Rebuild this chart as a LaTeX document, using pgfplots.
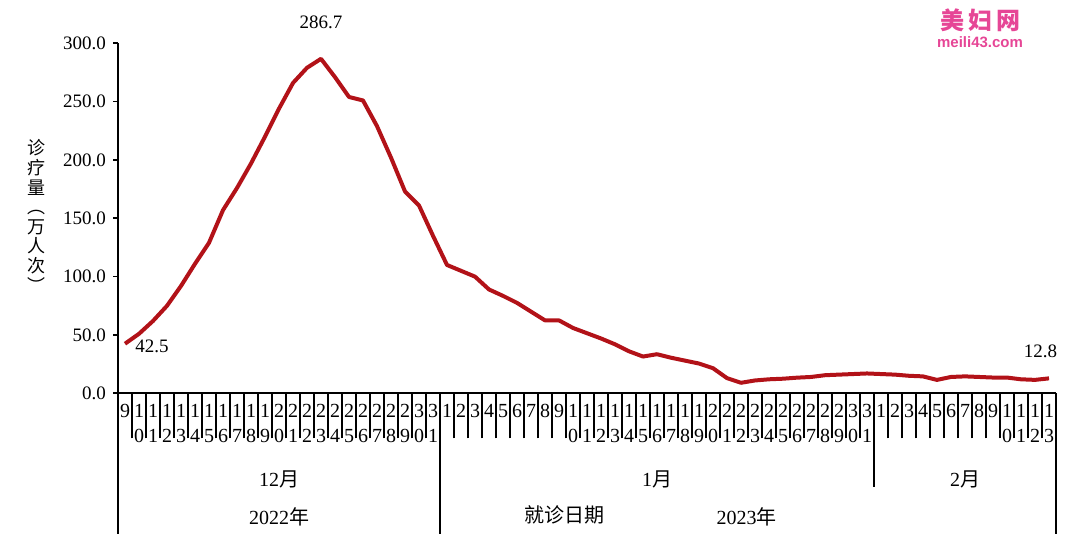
\documentclass[border=0pt]{standalone}
\usepackage{fontspec}
\setmainfont{Liberation Serif}
\newfontfamily\cjk{Noto Sans CJK SC}
\newfontfamily\wmsans{Liberation Sans}
\usepackage{pgfplots}
\pgfplotsset{compat=1.18}
\definecolor{linered}{RGB}{178,18,24}
\definecolor{wm}{RGB}{230,70,150}

\begin{document}
\begin{tikzpicture}
\useasboundingbox (0,0) rectangle (540pt,272.5pt);
\begin{axis}[
  at={(59pt,75.85pt)}, anchor=south west,
  scale only axis, width=469pt, height=175pt,
  xmin=-0.5, xmax=66.5, ymin=0, ymax=300,
  clip=false,
  axis x line=bottom, axis y line=left,
  axis line style={-, black, line width=0.9pt},
  tick align=outside,
  major tick length=2.5pt,
  minor tick length=22.5pt,
  ytick={0,50,100,150,200,250,300},
  yticklabels={0.0,50.0,100.0,150.0,200.0,250.0,300.0},
  y tick label style={font=\fontsize{9.5}{10}\selectfont},
  y tick style={black, line width=0.8pt},
  xtick={0,...,66},
  major x tick style={draw=none},
  minor xtick={-0.5,0.5,...,66.5},
  minor x tick style={black, line width=0.7pt},
  x tick label style={align=center, anchor=north, inner sep=0pt, yshift=-3pt,
    font=\fontsize{10}{12.5}\selectfont},
  xticklabels={9,{1\\0},{1\\1},{1\\2},{1\\3},{1\\4},{1\\5},{1\\6},{1\\7},{1\\8},{1\\9},
    {2\\0},{2\\1},{2\\2},{2\\3},{2\\4},{2\\5},{2\\6},{2\\7},{2\\8},{2\\9},{3\\0},{3\\1},
    1,2,3,4,5,6,7,8,9,{1\\0},{1\\1},{1\\2},{1\\3},{1\\4},{1\\5},{1\\6},{1\\7},{1\\8},{1\\9},
    {2\\0},{2\\1},{2\\2},{2\\3},{2\\4},{2\\5},{2\\6},{2\\7},{2\\8},{2\\9},{3\\0},{3\\1},
    1,2,3,4,5,6,7,8,9,{1\\0},{1\\1},{1\\2},{1\\3}},
]
\addplot[linered, line width=2pt, line join=round, no markers] coordinates {
(0,42.5) (1,51) (2,62) (3,75) (4,92) (5,111) (6,129) (7,157) (8,176) (9,197)
(10,220) (11,244) (12,266) (13,279) (14,286.7) (15,271) (16,254) (17,251) (18,229) (19,202)
(20,173) (21,161) (22,135) (23,110) (24,105) (25,100) (26,89) (27,83.5) (28,77.5) (29,70)
(30,62.5) (31,62.5) (32,56) (33,51.5) (34,47) (35,42) (36,36) (37,31.5) (38,33.5) (39,30.5)
(40,28) (41,25.5) (42,21.5) (43,13) (44,9) (45,11) (46,12) (47,12.5) (48,13.4) (49,14)
(50,15.5) (51,16) (52,16.5) (53,17) (54,16.5) (55,16) (56,15) (57,14.5) (58,11.5) (59,14)
(60,14.5) (61,14) (62,13.5) (63,13.5) (64,12) (65,11.5) (66,12.8)
};
% data labels
\node[font=\fontsize{9.5}{10}\selectfont] at (axis cs:14,318) {286.7};
\node[font=\fontsize{9.5}{10}\selectfont] at (axis cs:1.93,40.5) {42.5};
\node[font=\fontsize{9.5}{10}\selectfont] at (axis cs:65.4,36.3) {12.8};
% group separators
\draw[black, line width=0.7pt] (axis cs:-0.5,0) -- ++(0pt,-70.5pt);
\draw[black, line width=0.7pt] (axis cs:22.5,0) -- ++(0pt,-70.5pt);
\draw[black, line width=0.7pt] (axis cs:53.5,0) -- ++(0pt,-47pt);
\draw[black, line width=0.7pt] (axis cs:66.5,0) -- ++(0pt,-70.5pt);
% month labels
\node[font=\fontsize{10}{10}\selectfont] at ([yshift=-43pt]axis cs:11,0) {12{\cjk 月}};
\node[font=\fontsize{10}{10}\selectfont] at ([yshift=-43pt]axis cs:38,0) {1{\cjk 月}};
\node[font=\fontsize{10}{10}\selectfont] at ([yshift=-43pt]axis cs:60,0) {2{\cjk 月}};
% year labels
\node[font=\fontsize{10}{10}\selectfont] at ([yshift=-62pt]axis cs:11,0) {2022{\cjk 年}};
\node[font=\fontsize{10}{10}\selectfont] at ([yshift=-62pt]axis cs:44.4,0) {2023{\cjk 年}};
\node[font=\cjk\fontsize{10}{10}\selectfont] at ([yshift=-61pt]axis cs:31.4,0) {就诊日期};
\end{axis}
% y label, stacked vertically
\node[align=center, inner sep=0pt, font=\cjk\fontsize{9}{9.8}\selectfont] at (18pt,164.5pt)
  {诊\\疗\\量\\︵\\万\\人\\次\\︶};
% watermark
\node[text=wm, font=\cjk\bfseries\fontsize{12}{12}\selectfont] at (490pt,262.5pt) {美\,妇\,网};
\node[text=wm, font=\wmsans\bfseries\fontsize{7.5}{8}\selectfont] at (490pt,251.5pt) {meili43.com};
\end{tikzpicture}
\end{document}
